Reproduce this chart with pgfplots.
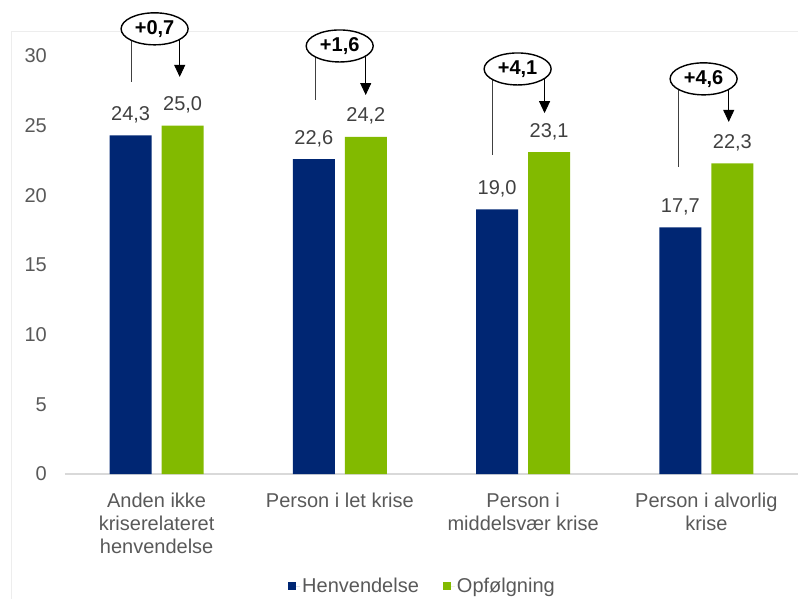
\documentclass[border=0pt]{standalone}
\usepackage{fontspec}
\setmainfont{Liberation Sans}
\usepackage{pgfplots}
\pgfplotsset{compat=1.18}
\usetikzlibrary{arrows.meta,shapes.geometric}
\definecolor{navy}{RGB}{0,38,115}
\definecolor{lgreen}{RGB}{130,186,0}
\definecolor{tgray}{RGB}{89,89,89}
\definecolor{vgray}{RGB}{64,64,64}
\newcommand{\bigf}{\fontsize{20}{23}\selectfont}
% line x, line bottom, arrow x, arrow tip, ellipse x, ellipse y, text
\newcommand{\annot}[7]{%
  \draw[black!75, line width=0.9pt] (axis cs:#1,#6) -- (axis cs:#1,#2);
  \draw[black, line width=0.9pt, -{Triangle[width=11pt,length=12pt]}] (axis cs:#3,#6) -- (axis cs:#3,#4);
  \node[ellipse, draw=black, fill=white, line width=1.4pt, minimum width=67pt, minimum height=32pt, inner sep=0pt, font=\bfseries\bigf] at (axis cs:#5,#6) {#7};
}
\begin{document}
\begin{tikzpicture}
\path[use as bounding box] (-65pt,-124pt) rectangle (733pt,474pt);
\draw[black!7, line width=0.8pt] (-54pt,-130pt) -- (-54pt,443pt) -- (740pt,443pt);
\begin{axis}[
  at={(0pt,0pt)}, anchor=south west,
  scale only axis, width=733pt, height=418pt,
  ymin=0, ymax=30, xmin=-0.5, xmax=3.5,
  ytick={0,5,...,30}, xtick={0,1,2,3},
  xticklabels={{Anden ikke\\kriserelateret\\henvendelse},{Person i let krise},{Person i\\middelsvær krise},{Person i alvorlig\\krise}},
  /pgf/number format/assume math mode=true,
  axis lines*=left,
  y axis line style={draw=none},
  x axis line style={draw=black!15, line width=1.2pt},
  tick style={draw=none},
  xticklabel style={align=center, font=\bigf, text=tgray, inner sep=0pt, anchor=north, yshift=-15pt},
  yticklabel style={font=\bigf, text=tgray, inner sep=0pt, anchor=east, xshift=-18pt},
  ybar=10pt, bar width=42pt,
  clip=false,
  nodes near coords={\pgfmathprintnumber[fixed,fixed zerofill,precision=1,use comma]{\pgfplotspointmeta}},
  every node near coord/.append style={font=\bigf, text=vgray, anchor=base, yshift=15pt, inner sep=0pt},
  legend style={draw=none, fill=none, at={(axis description cs:0.5,0)}, anchor=center, yshift=-112pt, xshift=-9pt, legend columns=2, font=\bigf, text=tgray, /tikz/every even column/.append style={column sep=22pt}},
  legend image code/.code={\fill[#1] (0pt,-4pt) rectangle (8pt,4pt); \path (0pt,0pt) -- (12pt,0pt);},
]
\addplot[fill=navy, draw=none] coordinates {(0,24.3) (1,22.6) (2,19.0) (3,17.7)};
\addplot[fill=lgreen, draw=none] coordinates {(0,25.0) (1,24.2) (2,23.1) (3,22.3)};
\legend{Henvendelse, Opfølgning}
\annot{-0.136}{28.14}{0.126}{28.5}{-0.011}{31.95}{+0,7}
\annot{0.868}{26.85}{1.141}{27.2}{0.999}{30.72}{+1,6}
\annot{1.834}{22.9}{2.117}{25.9}{1.970}{29.07}{+4,1}
\annot{2.849}{22.04}{3.122}{25.27}{2.985}{28.36}{+4,6}
\end{axis}
\end{tikzpicture}
\end{document}
